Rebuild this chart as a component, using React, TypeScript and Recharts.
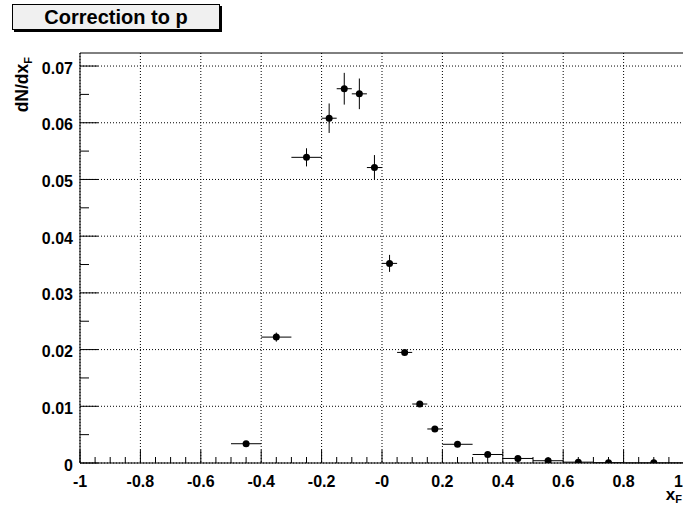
import React from "react";
import { ComposedChart, Scatter, ErrorBar, XAxis, YAxis, CartesianGrid, ReferenceLine } from "recharts";

// bin centres, half widths, values and errors
const xCenters = [-0.45, -0.35, -0.25, -0.175, -0.125, -0.075, -0.025, 0.025, 0.075, 0.125, 0.175, 0.25, 0.35, 0.45, 0.55, 0.65, 0.75, 0.9];
const xHalfWidths = [0.05, 0.05, 0.05, 0.025, 0.025, 0.025, 0.025, 0.025, 0.025, 0.025, 0.025, 0.05, 0.05, 0.05, 0.05, 0.05, 0.05, 0.1];
const yValues = [0.0034, 0.0222, 0.0539, 0.0608, 0.066, 0.0651, 0.0521, 0.0352, 0.0195, 0.0104, 0.006, 0.0033, 0.0015, 0.0008, 0.0004, 0.00015, 0.00006, 0.00003];
const yErrors = [0.0003, 0.0008, 0.0016, 0.0026, 0.0028, 0.0027, 0.0022, 0.0015, 0.0005, 0.0003, 0.0003, 0.0002, 0.0001, 0.0001, 0.0001, 0.00005, 0.00003, 0.00002];

const xMajor = [-1, -0.8, -0.6, -0.4, -0.2, 0, 0.2, 0.4, 0.6, 0.8, 1];
const xLabels = ["-1", "-0.8", "-0.6", "-0.4", "-0.2", "-0", "0.2", "0.4", "0.6", "0.8", "1"];
const yMajor = [0, 0.01, 0.02, 0.03, 0.04, 0.05, 0.06, 0.07];
const yLabels = ["0", "0.01", "0.02", "0.03", "0.04", "0.05", "0.06", "0.07"];

const Y_MAX = 0.0723;
const FONT = "'Liberation Sans', Arial, Helvetica, sans-serif";

const data = xCenters.map((x, i) => ({ x, y: yValues[i], ex: xHalfWidths[i], ey: yErrors[i] }));

// minor ticks: 4 divisions between majors
const xTicks: number[] = [];
xMajor.forEach((v, i) => {
  xTicks.push(v);
  if (i < xMajor.length - 1) for (let k = 1; k < 4; k++) xTicks.push(+(v + k * 0.05).toFixed(3));
});
const yTicks: number[] = [];
yMajor.forEach((v, i) => {
  yTicks.push(v);
  if (i < yMajor.length - 1) yTicks.push(+(v + 0.005).toFixed(4));
});

const isMajor = (arr: number[], v: number) => arr.findIndex((m) => Math.abs(m - v) < 1e-9);

const XTick = (props: any) => {
  const { x, y, payload } = props;
  const idx = isMajor(xMajor, payload.value);
  const len = idx >= 0 ? 13 : 6;
  const last = idx === xMajor.length - 1;
  return (
    <g>
      <line x1={x} y1={y} x2={x} y2={y - len} stroke="#000" />
      {idx >= 0 && (
        <text
          x={last ? 683 : x}
          y={y + 24}
          textAnchor={last ? "end" : "middle"}
          fontFamily={FONT}
          fontWeight="bold"
          fontSize={16}
          fill="#000"
        >
          {xLabels[idx]}
        </text>
      )}
    </g>
  );
};

const YTick = (props: any) => {
  const { x, y, payload } = props;
  const idx = isMajor(yMajor, payload.value);
  const len = idx >= 0 ? 18 : 9;
  return (
    <g>
      <line x1={x} y1={y} x2={x + len} y2={y} stroke="#000" />
      {idx >= 0 && (
        <text x={x - 7} y={y + 7.5} textAnchor="end" fontFamily={FONT} fontWeight="bold" fontSize={16} fill="#000">
          {yLabels[idx]}
        </text>
      )}
    </g>
  );
};

const Dot = (p: any) => <circle cx={p.cx} cy={p.cy} r={3.5} fill="#000" />;

export default function App() {
  return (
    <div style={{ position: "absolute", left: 0, top: 0, width: 683, height: 506, overflow: "hidden", background: "#fff" }}>
      <ComposedChart width={700} height={506} data={data} margin={{ top: 53, right: 16, bottom: 0, left: 0 }}>
        <CartesianGrid
          verticalValues={xMajor}
          horizontalValues={yMajor}
          stroke="#000"
          strokeDasharray="1 2"
        />
        <XAxis
          type="number"
          dataKey="x"
          domain={[-1, 1]}
          ticks={xTicks}
          interval={0}
          tick={<XTick />}
          tickLine={false}
          tickSize={0}
          tickMargin={0}
          height={43}
          axisLine={{ stroke: "#000" }}
          allowDataOverflow
        />
        <YAxis
          type="number"
          dataKey="y"
          domain={[0, Y_MAX]}
          ticks={yTicks}
          interval={0}
          tick={<YTick />}
          tickLine={false}
          tickSize={0}
          tickMargin={0}
          width={80}
          axisLine={{ stroke: "#000" }}
          allowDataOverflow
        />
        <ReferenceLine y={Y_MAX} stroke="#000" />
        <Scatter dataKey="y" shape={<Dot />} isAnimationActive={false}>
          <ErrorBar dataKey="ey" direction="y" width={0} stroke="#000" strokeWidth={1} />
          <ErrorBar dataKey="ex" direction="x" width={0} stroke="#000" strokeWidth={1} />
        </Scatter>
      </ComposedChart>

      <svg width={683} height={506} style={{ position: "absolute", left: 0, top: 0, pointerEvents: "none" }}>
        <text
          x={28}
          y={57}
          transform="rotate(-90 28 57)"
          textAnchor="end"
          fontFamily={FONT}
          fontWeight="bold"
          fontSize={17.5}
          fill="#000"
        >
          dN/dx<tspan fontSize={11} dy={4}>F</tspan>
        </text>
        <text x={682} y={500} textAnchor="end" fontFamily={FONT} fontWeight="bold" fontSize={17} fill="#000">
          x<tspan fontSize={11} dy={3}>F</tspan>
        </text>
      </svg>

      <div
        style={{
          position: "absolute",
          left: 12,
          top: 4,
          width: 206,
          height: 24,
          border: "1px solid #000",
          background: "#f0f0f0",
          boxShadow: "2px 2px 0 #000",
          fontFamily: FONT,
          fontWeight: "bold",
          fontSize: 20,
          lineHeight: "24px",
          textAlign: "center",
        }}
      >
        Correction to p
      </div>
    </div>
  );
}
